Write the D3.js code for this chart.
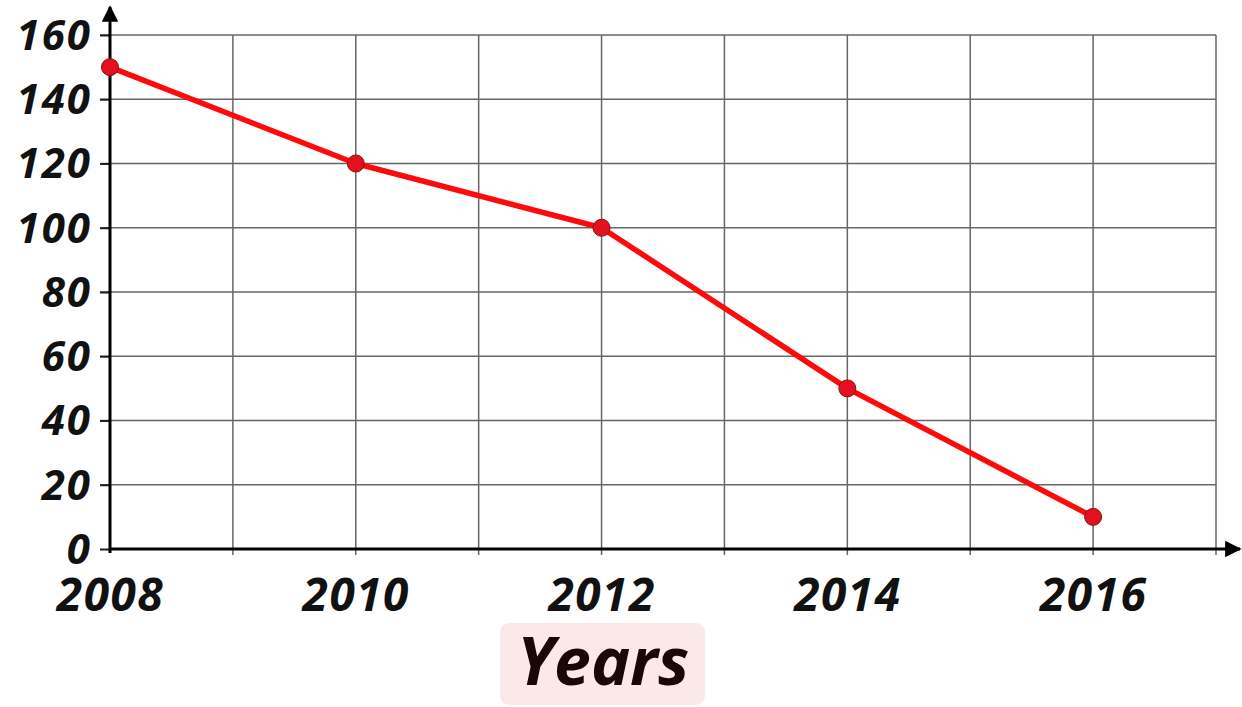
<!DOCTYPE html>
<html lang="en">
  <head>
    <meta charset="UTF-8" />
    <title>Years line chart</title>
    <script src="https://d3js.org/d3.v7.min.js"></script>
    <style>
      body { margin: 0; background: #fff; }
      text { font-family: 'Open Sans', 'Liberation Sans', sans-serif; font-weight: bold; font-style: italic; }
    </style>
  </head>
  <body>
    <svg width="1242" height="707"></svg>
    <script>
      var years = [2008, 2010, 2012, 2014, 2016]
      var values = [150, 120, 100, 50, 10]
      var yTicks = [0, 20, 40, 60, 80, 100, 120, 140, 160]
      var gridYears = [2008, 2009, 2010, 2011, 2012, 2013, 2014, 2015, 2016, 2017]
      var xLabel = 'Years'

      var svg = d3.select('svg')

      var x = d3.scaleLinear().domain([2008, 2017]).range([110, 1216])
      var y = d3.scaleLinear().domain([0, 160]).range([549, 35])

      // grid
      var grid = svg.append('g').attr('stroke', '#666').attr('stroke-width', 1.5)
      grid.selectAll('.vl')
        .data(gridYears.slice(1))
        .enter()
        .append('line')
        .attr('x1', d => x(d))
        .attr('x2', d => x(d))
        .attr('y1', y(160))
        .attr('y2', y(0) + 6)
      grid.selectAll('.hl')
        .data(yTicks.slice(1))
        .enter()
        .append('line')
        .attr('x1', x(2008) - 10)
        .attr('x2', x(2017))
        .attr('y1', d => y(d))
        .attr('y2', d => y(d))

      // y axis with labels
      var yAxis = svg.append('g')
        .attr('transform', `translate(${x(2008)},0)`)
        .call(d3.axisLeft(y).tickValues(yTicks).tickSize(10).tickPadding(8))
      yAxis.select('.domain').remove()
      yAxis.selectAll('line').attr('stroke', '#222').attr('stroke-width', 2)
      yAxis.selectAll('text')
        .attr('font-size', 42)
        .attr('letter-spacing', 2)
        .attr('fill', '#111')
        .attr('font-family', null)
        .attr('dy', '0.34em')

      // x axis labels
      var xAxis = svg.append('g')
        .attr('transform', `translate(0,${y(0)})`)
        .call(d3.axisBottom(x).tickValues(years).tickFormat(d3.format('d')).tickSize(0).tickPadding(29))
      xAxis.select('.domain').remove()
      xAxis.selectAll('text')
        .attr('font-size', 46)
        .attr('letter-spacing', 1.5)
        .attr('fill', '#111')
        .attr('font-family', null)

      // main axes lines with arrows
      svg.append('defs').append('marker')
        .attr('id', 'arrow')
        .attr('viewBox', '0 0 10 10')
        .attr('refX', 9)
        .attr('refY', 5)
        .attr('markerWidth', 5.5)
        .attr('markerHeight', 5.5)
        .attr('markerUnits', 'strokeWidth')
        .attr('orient', 'auto')
        .append('path')
        .attr('d', 'M0,0L10,5L0,10Z')
        .attr('fill', '#000')

      svg.append('line')
        .attr('x1', x(2008)).attr('x2', 1240)
        .attr('y1', y(0)).attr('y2', y(0))
        .attr('stroke', '#000').attr('stroke-width', 3)
        .attr('marker-end', 'url(#arrow)')
      svg.append('line')
        .attr('x1', x(2008)).attr('x2', x(2008))
        .attr('y1', y(0) + 4).attr('y2', 7)
        .attr('stroke', '#000').attr('stroke-width', 3)
        .attr('marker-end', 'url(#arrow)')

      // line
      var line = d3.line()
        .x((d, i) => x(years[i]))
        .y(d => y(d))
      svg.append('path')
        .datum(values)
        .attr('d', line)
        .attr('fill', 'none')
        .attr('stroke', '#ff0a0a')
        .attr('stroke-width', 5.5)
        .attr('stroke-linejoin', 'round')

      svg.selectAll('.dot')
        .data(values)
        .enter()
        .append('circle')
        .attr('cx', (d, i) => x(years[i]))
        .attr('cy', d => y(d))
        .attr('r', 8.5)
        .attr('fill', '#e3111f')
        .attr('stroke', '#8a1010')
        .attr('stroke-width', 1)

      // x title
      svg.append('rect')
        .attr('x', 500).attr('y', 623)
        .attr('width', 205).attr('height', 82)
        .attr('rx', 9)
        .attr('fill', '#fbe9e9')
      svg.append('text')
        .attr('x', 603)
        .attr('y', 685)
        .attr('text-anchor', 'middle')
        .attr('font-size', 66)
        .attr('fill', '#1a0808')
        .text(xLabel)
    </script>
  </body>
</html>
